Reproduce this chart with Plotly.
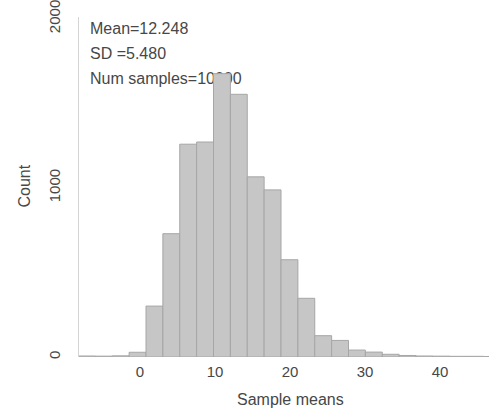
import plotly.graph_objects as go

# Histogram data
bin_start = -8.2
bin_width = 2.25
counts = [6, 5, 7, 28, 301, 729, 1258, 1271, 1675, 1553, 1065, 988, 575,
          347, 126, 98, 41, 29, 16, 9, 6, 5, 4, 4, 3]
stats_lines = ["Mean=12.248", "SD =5.480", "Num samples=10000"]
x_ticks = [0, 10, 20, 30, 40]
y_ticks = [0, 1000, 2000]
x_title = "Sample means"
y_title = "Count"

centers = [bin_start + bin_width * (i + 0.5) for i in range(len(counts))]

fig = go.Figure()
fig.add_trace(go.Bar(
    x=centers, y=counts, width=[bin_width] * len(counts),
    marker=dict(color="#c6c6c6", line=dict(color="#a6a6a6", width=1)),
    hoverinfo="skip",
))

font_col = "#474747"
L, R, T, B = 79, 0, 12, 57
W, H = 489, 414
pw, ph = W - L - R, H - T - B

def px_x(px):
    return (px - L) / pw

def px_y(py):
    return (H - B - py) / ph

# stats text drawn below the bars (shape labels on layer below)
shapes = []
for i, line in enumerate(stats_lines):
    cy = 22 + 25 * i
    shapes.append(dict(
        type="rect", xref="paper", yref="paper", layer="below",
        x0=px_x(87), x1=px_x(400), y0=px_y(cy + 8), y1=px_y(cy - 8),
        line=dict(width=0), fillcolor="rgba(0,0,0,0)",
        label=dict(text=line, textposition="middle left", padding=0,
                   font=dict(family="Liberation Sans, Arial", size=16, color=font_col)),
    ))

annotations = [
    dict(text=x_title, xref="paper", yref="paper", x=px_x(290), y=px_y(400),
         xanchor="center", yanchor="middle", showarrow=False,
         font=dict(family="Liberation Sans, Arial", size=16, color=font_col)),
    dict(text=y_title, xref="paper", yref="paper", x=px_x(25), y=px_y(184),
         xanchor="center", yanchor="middle", showarrow=False, textangle=-90,
         font=dict(family="Liberation Sans, Arial", size=16, color=font_col)),
]

fig.update_layout(
    width=W, height=H,
    margin=dict(l=L, r=R, t=T, b=B, pad=0),
    paper_bgcolor="white", plot_bgcolor="white",
    showlegend=False, bargap=0,
    shapes=shapes, annotations=annotations,
    font=dict(family="Liberation Sans, Arial", size=15, color=font_col),
)
fig.update_xaxes(
    range=[(L - 140) / 7.5, (W - R - 140) / 7.5],
    tickvals=x_ticks, ticks="", showgrid=False, zeroline=False, showline=False,
    tickfont=dict(size=15, color=font_col), ticklabelstandoff=4,
)
fig.update_yaxes(
    range=[0, 2010], tickvals=y_ticks, ticks="", showgrid=False, zeroline=False,
    showline=True, linecolor="#d4d4d4", linewidth=1.5, tickangle=-90,
    tickfont=dict(size=15, color=font_col), ticklabelstandoff=12,
    ticklabeloverflow="allow",
)

fig.write_html(
    "out.html",
    config={"displayModeBar": False, "staticPlot": True},
    post_script="document.body.style.margin='0';document.body.style.overflow='hidden';",
)
